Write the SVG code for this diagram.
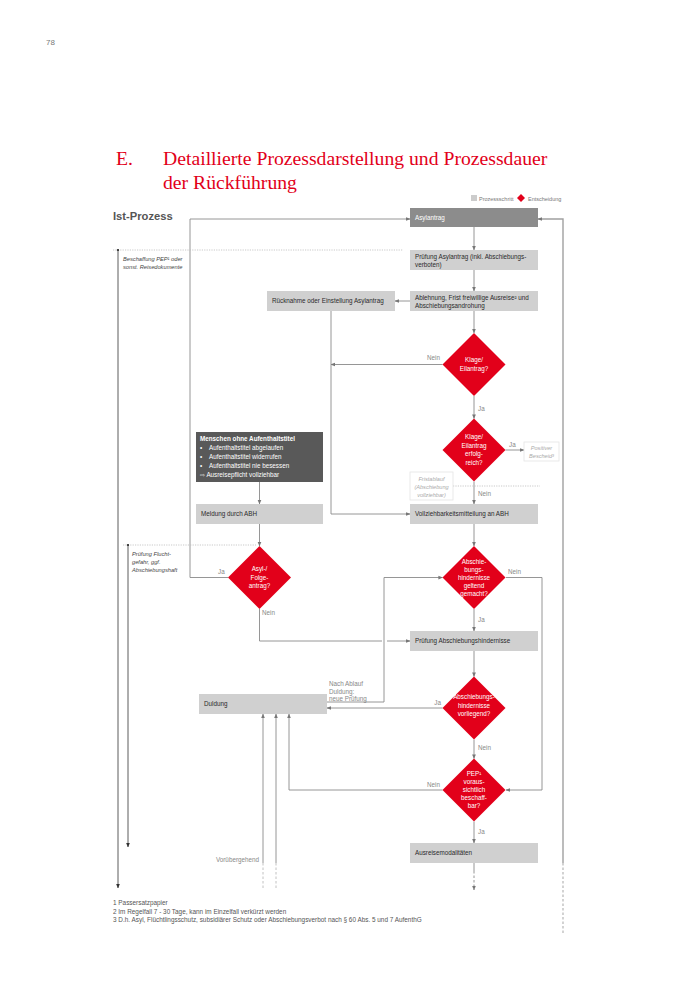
<svg xmlns="http://www.w3.org/2000/svg" width="700" height="990" viewBox="0 0 700 990">
<defs>
<marker id="ah" viewBox="0 0 6 6" refX="5.5" refY="3" markerWidth="4.5" markerHeight="4.5" orient="auto" markerUnits="userSpaceOnUse"><path d="M0,0.5 L6,3 L0,5.5 Z" fill="#777"/></marker>
<marker id="ahd" viewBox="0 0 6 6" refX="5.5" refY="3" markerWidth="4.5" markerHeight="4.5" orient="auto" markerUnits="userSpaceOnUse"><path d="M0,0.5 L6,3 L0,5.5 Z" fill="#333"/></marker>
<style>
text{font-family:"Liberation Sans",Arial,sans-serif}
.t{font-size:6.3px;fill:#2a2a2a}
.tw{font-size:6.3px;fill:#fff}
.lb{font-size:6.3px;fill:#888}
.it{font-size:5.7px;fill:#444;font-style:italic}
.itl{font-size:5.6px;fill:#aaa;font-style:italic}
.box{fill:#d0d0d0}
.dia{fill:#e2001a}
.c{fill:none;stroke:#8a8a8a;stroke-width:0.9}
.cd{fill:none;stroke:#8a8a8a;stroke-width:0.9;stroke-dasharray:2.5 2}
.ck{fill:none;stroke:#333;stroke-width:0.8}
.dot{fill:none;stroke:#bbb;stroke-width:0.8;stroke-dasharray:1.2 1.2}
.ttl{font-family:"Liberation Serif","Times New Roman",serif;font-size:19.7px;fill:#e2001a}
.fn{font-size:6.4px;fill:#555}
</style>
</defs>
<rect width="700" height="990" fill="#fff"/>
<text x="46" y="45" style="font-size:8px;fill:#777">78</text>
<text x="116" y="165" class="ttl">E.</text>
<text x="163" y="165" class="ttl">Detaillierte Prozessdarstellung und Prozessdauer</text>
<text x="163" y="189" class="ttl">der Rückführung</text>
<g id="legend">
<rect x="471" y="195" width="6" height="6" fill="#cccccc"/>
<text x="479" y="200.5" style="font-size:5.5px;fill:#777">Prozessschritt</text>
<path d="M521,194 L525,198 L521,202 L517,198 Z" class="dia"/>
<text x="528" y="200.5" style="font-size:5.5px;fill:#777">Entscheidung</text>
</g>
<text x="113" y="220" style="font-size:11.2px;font-weight:bold;fill:#555">Ist-Prozess</text>

<g id="connectors">
<path class="c" d="M474,227 V250" marker-end="url(#ah)"/>
<path class="c" d="M474,270 V291" marker-end="url(#ah)"/>
<path class="c" d="M410,301 H395" marker-end="url(#ah)"/>
<path class="c" d="M474,311 V333" marker-end="url(#ah)"/>
<path class="c" d="M442.5,364.5 H331" marker-end="url(#ah)"/>
<path class="c" d="M331,311 V514 H410" marker-end="url(#ah)"/>
<path class="c" d="M474,396 V418.5" marker-end="url(#ah)"/>
<path class="c" d="M505.5,450 H524" marker-end="url(#ah)"/>
<path class="c" d="M474,481.5 V504" marker-end="url(#ah)"/>
<path class="dot" d="M453,486 H540"/>
<path class="c" d="M259.5,482 V504" marker-end="url(#ah)"/>
<path class="c" d="M259.5,524 V546" marker-end="url(#ah)"/>
<path class="c" d="M228,577.5 H190 V219 H410" marker-end="url(#ah)"/>
<path class="c" d="M259.5,609 V641 H382"/>
<path class="c" d="M387,641 H410" marker-end="url(#ah)"/>
<path class="c" d="M474,524 V546" marker-end="url(#ah)"/>
<path class="c" d="M506,577.5 H542 V790 H506" marker-end="url(#ah)"/>
<path class="c" d="M474,609 V631" marker-end="url(#ah)"/>
<path class="c" d="M474,651 V676.5" marker-end="url(#ah)"/>
<path class="c" d="M442.5,708 H327" marker-end="url(#ah)"/>
<path class="c" d="M327,702 H384 V577.5 H442.5" marker-end="url(#ah)"/>
<path class="c" d="M474,739.5 V758.5" marker-end="url(#ah)"/>
<path class="c" d="M442.5,790 H289 V714" marker-end="url(#ah)"/>
<path class="c" d="M474,821.5 V843" marker-end="url(#ah)"/>
<path class="c" d="M474,863 V871"/>
<path class="cd" d="M474,871 V890" marker-end="url(#ah)"/>
<path class="c" d="M563,863 V219 H538" marker-end="url(#ah)" style="stroke:#a0a0a0;stroke-width:1.4"/>
<path class="cd" d="M563,863 V933" style="stroke:#c0c0c0;stroke-width:1.4"/>
<path class="c" d="M263,863 V714" marker-end="url(#ah)"/>
<path class="c" d="M276,863 V714" marker-end="url(#ah)"/>
<path class="cd" d="M263,863 V889" style="stroke:#bbb"/>
<path class="cd" d="M276,863 V889" style="stroke:#bbb"/>
<path class="dot" d="M113,250 H403"/>
<circle cx="118" cy="250" r="1.1" fill="#222"/>
<path class="ck" d="M118,250 V888" marker-end="url(#ahd)"/>
<path class="dot" d="M123,545 H256"/>
<circle cx="128" cy="545" r="1.1" fill="#222"/>
<path class="ck" d="M128,545 V847" marker-end="url(#ahd)"/>
</g>

<g id="labels">
<text x="440" y="360" class="lb" text-anchor="end">Nein</text>
<text x="478" y="411" class="lb">Ja</text>
<text x="509" y="447" class="lb">Ja</text>
<text x="478" y="496" class="lb">Nein</text>
<text x="218" y="574" class="lb">Ja</text>
<text x="262" y="615" class="lb">Nein</text>
<text x="508" y="574" class="lb">Nein</text>
<text x="478" y="622" class="lb">Ja</text>
<text x="441" y="705" class="lb" text-anchor="end">Ja</text>
<text x="329" y="686" class="lb">Nach Ablauf</text>
<text x="329" y="694" class="lb">Duldung:</text>
<text x="329" y="701" class="lb">neue Prüfung</text>
<text x="478" y="750" class="lb">Nein</text>
<text x="440" y="787" class="lb" text-anchor="end">Nein</text>
<text x="478" y="834" class="lb">Ja</text>
<text x="259" y="862" class="lb" text-anchor="end">Vorübergehend</text>
<text x="123" y="261" class="it">Beschaffung PEP¹ oder</text>
<text x="123" y="269" class="it">sonst. Reisedokumente</text>
<text x="132" y="556" class="it">Prüfung Flucht-</text>
<text x="132" y="564" class="it">gefahr, ggf.</text>
<text x="132" y="572" class="it">Abschiebungshaft</text>
</g>

<g id="n-asylantrag"><rect x="410" y="208" width="128" height="19" fill="#8c8c8c"/><text x="415" y="220" class="tw">Asylantrag</text></g>
<g id="n-pruefung-asyl"><rect x="410" y="250" width="128" height="20" class="box"/><text x="415" y="258.5" class="t">Prüfung Asylantrag (inkl. Abschiebungs-</text><text x="415" y="266.5" class="t">verboten)</text></g>
<g id="n-ablehnung"><rect x="410" y="291" width="128" height="20" class="box"/><text x="415" y="299.5" class="t">Ablehnung, Frist freiwillige Ausreise² und</text><text x="415" y="307.5" class="t">Abschiebungsandrohung</text></g>
<g id="n-ruecknahme"><rect x="267" y="291" width="128" height="20" class="box"/><text x="272" y="303" class="t">Rücknahme oder Einstellung Asylantrag</text></g>
<g id="n-klage"><path d="M474,333 L505.5,364.5 L474,396 L442.5,364.5 Z" class="dia"/><text x="474" y="362" class="tw" text-anchor="middle">Klage/</text><text x="474" y="370.5" class="tw" text-anchor="middle">Eilantrag?</text></g>
<g id="n-erfolg"><path d="M474,418.5 L505.5,450 L474,481.5 L442.5,450 Z" class="dia"/><text x="474" y="439" class="tw" text-anchor="middle">Klage/</text><text x="474" y="447.5" class="tw" text-anchor="middle">Eilantrag</text><text x="474" y="456" class="tw" text-anchor="middle">erfolg-</text><text x="474" y="464.5" class="tw" text-anchor="middle">reich?</text></g>
<g id="n-positiv"><rect x="524" y="442" width="35" height="19" fill="#fff" stroke="#e4e4e4" stroke-width="0.8"/><text x="541.5" y="450" class="itl" text-anchor="middle">Positiver</text><text x="541.5" y="457.5" class="itl" text-anchor="middle">Bescheid³</text></g>
<g id="n-frist"><rect x="410" y="472" width="43" height="28" fill="#fff" stroke="#e4e4e4" stroke-width="0.8"/><text x="431.5" y="481" class="itl" text-anchor="middle">Fristablauf</text><text x="431.5" y="489" class="itl" text-anchor="middle">(Abschiebung</text><text x="431.5" y="497" class="itl" text-anchor="middle">vollziehbar)</text></g>
<g id="n-menschen"><rect x="196" y="432" width="127" height="50" fill="#595959"/>
<text x="200" y="441" class="tw" style="font-weight:bold">Menschen ohne Aufenthaltstitel</text>
<text x="200" y="450" class="tw">•</text><text x="209" y="450" class="tw">Aufenthaltstitel abgelaufen</text>
<text x="200" y="459" class="tw">•</text><text x="209" y="459" class="tw">Aufenthaltstitel widerrufen</text>
<text x="200" y="468" class="tw">•</text><text x="209" y="468" class="tw">Aufenthaltstitel nie besessen</text>
<text x="200" y="477" class="tw">⇨ Ausreisepflicht vollziehbar</text></g>
<g id="n-meldung"><rect x="196" y="504" width="127" height="20" class="box"/><text x="201" y="516" class="t">Meldung durch ABH</text></g>
<g id="n-vollzieh"><rect x="410" y="504" width="128" height="20" class="box"/><text x="415" y="516" class="t">Vollziehbarkeitsmitteilung an ABH</text></g>
<g id="n-asylfolge"><path d="M259.5,546 L291,577.5 L259.5,609 L228,577.5 Z" class="dia"/><text x="259.5" y="571" class="tw" text-anchor="middle">Asyl-/</text><text x="259.5" y="579.5" class="tw" text-anchor="middle">Folge-</text><text x="259.5" y="588" class="tw" text-anchor="middle">antrag?</text></g>
<g id="n-geltend"><path d="M474,546 L505.5,577.5 L474,609 L442.5,577.5 Z" class="dia"/><text x="474" y="563.5" class="tw" text-anchor="middle">Abschie-</text><text x="474" y="571.5" class="tw" text-anchor="middle">bungs-</text><text x="474" y="579.5" class="tw" text-anchor="middle">hindernisse</text><text x="474" y="587.5" class="tw" text-anchor="middle">geltend</text><text x="474" y="595.5" class="tw" text-anchor="middle">gemacht?</text></g>
<g id="n-pruefung-ah"><rect x="410" y="631" width="128" height="20" class="box"/><text x="415" y="643" class="t">Prüfung Abschiebungshindernisse</text></g>
<g id="n-duldung"><rect x="199" y="694" width="128" height="20" class="box"/><text x="204" y="706" class="t">Duldung</text></g>
<g id="n-vorliegend"><path d="M474,676.5 L505.5,708 L474,739.5 L442.5,708 Z" class="dia"/><text x="474" y="699" class="tw" text-anchor="middle">Abschiebungs-</text><text x="474" y="707.5" class="tw" text-anchor="middle">hindernisse</text><text x="474" y="716" class="tw" text-anchor="middle">vorliegend?</text></g>
<g id="n-pep"><path d="M474,758.5 L505.5,790 L474,821.5 L442.5,790 Z" class="dia"/><text x="474" y="776" class="tw" text-anchor="middle">PEP¹</text><text x="474" y="784" class="tw" text-anchor="middle">voraus-</text><text x="474" y="792" class="tw" text-anchor="middle">sichtlich</text><text x="474" y="800" class="tw" text-anchor="middle">beschaff-</text><text x="474" y="808" class="tw" text-anchor="middle">bar?</text></g>
<g id="n-ausreise"><rect x="410" y="843" width="128" height="20" class="box"/><text x="415" y="855" class="t">Ausreisemodalitäten</text></g>

<g id="footnotes">
<text x="113" y="905" class="fn">1 Passersatzpapier</text>
<text x="113" y="913.5" class="fn">2 Im Regelfall 7 - 30 Tage, kann im Einzelfall verkürzt werden</text>
<text x="113" y="922" class="fn">3 D.h. Asyl, Flüchtlingsschutz, subsidiärer Schutz oder Abschiebungsverbot nach § 60 Abs. 5 und 7 AufenthG</text>
</g>
</svg>
